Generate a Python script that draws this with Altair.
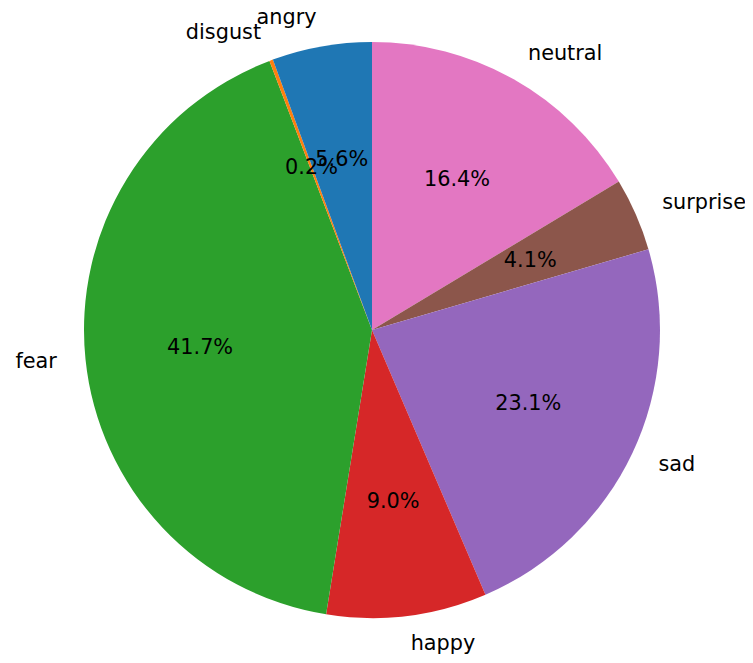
import math
import altair as alt
import pandas as pd

categories = ["neutral", "surprise", "sad", "happy", "fear", "disgust", "angry"]
values = [16.4, 4.1, 23.1, 9.0, 41.7, 0.2, 5.6]
colors = ["#e377c2", "#8c564b", "#9467bd", "#d62728", "#2ca02c", "#ff7f0e", "#1f77b4"]

total = sum(values)
df = pd.DataFrame({
    "category": categories,
    "value": values,
    "idx": list(range(len(categories))),
    "pct": [f"{v:.1f}%" for v in values],
})

CX, CY, R = 364, 322, 288
FONT = "DejaVu Sans"
FS = 20.8

theta_scale = alt.Scale(domain=[0, total], range=[0, 2 * math.pi])

base = (
    alt.Chart(df)
    .transform_stack(stack="value", as_=["t0", "t1"], groupby=[],
                     sort=[alt.SortField("idx", order="ascending")])
    .transform_calculate(mid="(datum.t0 + datum.t1) / 2")
)

arcs = base.mark_arc().encode(
    theta=alt.Theta("t0:Q", scale=theta_scale),
    theta2="t1:Q",
    color=alt.Color("category:N", scale=alt.Scale(domain=categories, range=colors), legend=None),
    x=alt.value(CX),
    y=alt.value(CY),
    radius=alt.value(R),
)

pct = base.mark_text(font=FONT, fontSize=FS, color="black", align="center", baseline="middle").encode(
    theta=alt.Theta("mid:Q", scale=theta_scale),
    radius=alt.value(0.6 * R),
    x=alt.value(CX),
    y=alt.value(CY),
    text="pct:N",
)

lab_right = base.transform_filter(f"datum.mid < {total / 2}").mark_text(
    font=FONT, fontSize=FS, color="black", align="left", baseline="middle"
).encode(
    theta=alt.Theta("mid:Q", scale=theta_scale),
    radius=alt.value(1.1 * R),
    x=alt.value(CX),
    y=alt.value(CY),
    text="category:N",
)

lab_left = base.transform_filter(f"datum.mid >= {total / 2}").mark_text(
    font=FONT, fontSize=FS, color="black", align="right", baseline="middle"
).encode(
    theta=alt.Theta("mid:Q", scale=theta_scale),
    radius=alt.value(1.1 * R),
    x=alt.value(CX),
    y=alt.value(CY),
    text="category:N",
)

chart = (
    alt.layer(arcs, pct, lab_right, lab_left)
    .properties(width=737, height=647, autosize=alt.AutoSizeParams(type="none"), padding=0)
    .configure_view(stroke=None)
)

chart.save("out.html", embed_options={"renderer": "svg", "actions": False})
